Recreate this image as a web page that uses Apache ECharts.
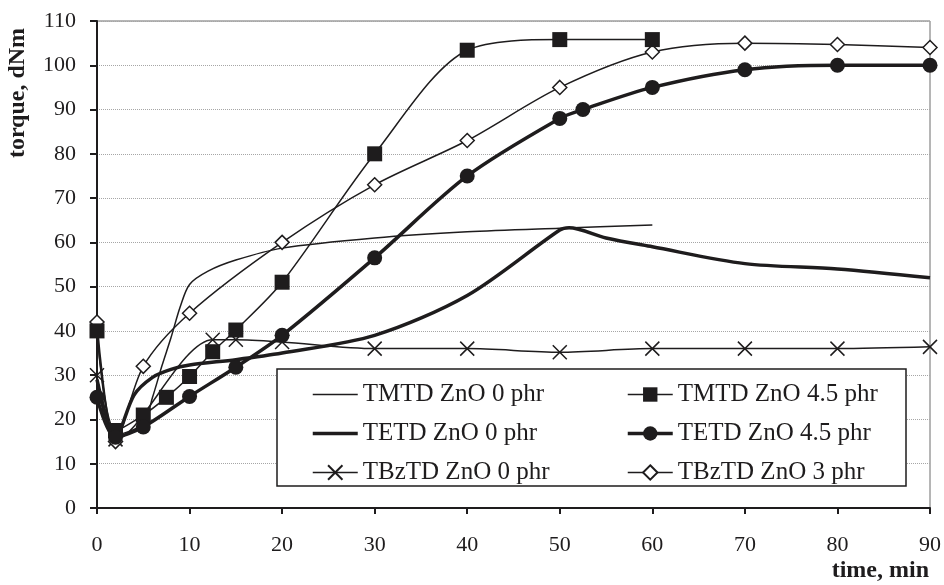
<!DOCTYPE html>
<html>
<head>
<meta charset="utf-8">
<script src="https://cdn.jsdelivr.net/npm/echarts@6/dist/echarts.min.js"></script>
<style>html,body{margin:0;padding:0;background:#fff}#c{width:944px;height:585px}</style>
</head>
<body>
<div id="c"></div>
<script>
// ---- data ----
const xTicks = [0,10,20,30,40,50,60,70,80,90];
const yTicks = [0,10,20,30,40,50,60,70,80,90,100,110];

const tmtd0Time   = [0,2,5,6,7,8,9,10,12,15,20,30,40,50,60];
const tmtd0Torque = [40,16.5,19,25,32,38.5,45.5,50.5,53.5,56,58.7,61,62.4,63.2,63.9];

const tmtd45Time   = [0,2,5,7.5,10,12.5,15,20,30,40,50,60];
const tmtd45Torque = [40,17.5,21,25,29.7,35.3,40.2,51,80,103.4,105.8,105.8];

const tetd0Time   = [0,2,4,6,8,10,15,20,30,40,50,51,55,60,70,80,90];
const tetd0Torque = [29,16,25.5,29.5,31.3,32.3,33.5,35,39,48,62.8,63.3,61,59,55.2,54,52];

const tetd45Time   = [0,2,5,10,15,20,30,40,50,52.5,60,70,80,90];
const tetd45Torque = [25,16,18.3,25.2,31.8,39,56.5,75,88,90,95,99,100,100];

const tbztd0Time   = [0,2,12.5,15,20,30,40,50,60,70,80,90];
const tbztd0Torque = [30,15.5,38,38,37.5,36,36,35.2,36,36,36,36.4];

const tbztd3Time   = [0,2,5,10,20,30,40,50,60,70,80,90];
const tbztd3Torque = [42,15,32,44,60,73,83,95,103,105,104.7,104];

const names = ['TMTD ZnO 0 phr','TMTD ZnO 4.5 phr','TETD ZnO 0 phr','TETD ZnO 4.5 phr','TBzTD ZnO 0 phr','TBzTD ZnO 3 phr'];
const xTitle = 'time, min';
const yTitle = 'torque, dNm';

// ---- build ----
const zip = (t, v) => t.map((x, i) => [x, v[i]]);
const INK = '#1e1c1d';
const FONT = '"Liberation Serif","Times New Roman",serif';
const CROSS = 'path://M0,0L10,10M0,10L10,0';
const THIN = 1.5, THICK = 3.5;

function line(name, data, width, symbol, size, fill) {
  const plain = !symbol;
  return {
    type: 'line', name, data, smooth: 0.3, clip: false,
    symbol: symbol || 'none', symbolSize: size || 0, showSymbol: !plain,
    lineStyle: { color: INK, width },
    itemStyle: plain
      ? { color: 'rgba(0,0,0,0)', borderColor: 'rgba(0,0,0,0)', borderWidth: 0 }
      : { color: fill || INK, borderColor: INK, borderWidth: symbol === 'rect' || symbol === 'circle' ? 0 : 1.5 },
    emphasis: { disabled: true }
  };
}

const legendText = { fontSize: 25, lineHeight: 24, fontFamily: FONT, color: INK };
const widthOf = { [names[0]]: THIN, [names[1]]: THIN, [names[2]]: THICK, [names[3]]: THICK, [names[4]]: THIN, [names[5]]: THIN };
const legendItem = n => ({ name: n, lineStyle: { width: widthOf[n], color: INK } });

const chart = echarts.init(document.getElementById('c'), null, { renderer: 'canvas' });
chart.setOption({
  animation: false,
  backgroundColor: '#fff',
  textStyle: { fontFamily: FONT, color: INK },
  grid: { left: 97, right: 14, top: 21, bottom: 77, show: true, borderColor: '#6d6d6d', borderWidth: 1, backgroundColor: 'transparent' },
  xAxis: {
    type: 'value', min: xTicks[0], max: xTicks[xTicks.length - 1], interval: 10,
    axisLine: { lineStyle: { color: INK, width: 2 } },
    axisTick: { show: true, length: 6, lineStyle: { color: INK, width: 2 } },
    axisLabel: { fontSize: 22, fontFamily: FONT, color: INK, margin: 26 },
    splitLine: { show: false }
  },
  yAxis: {
    type: 'value', min: yTicks[0], max: yTicks[yTicks.length - 1], interval: 10,
    axisLine: { show: true, lineStyle: { color: INK, width: 2 } },
    axisTick: { show: true, length: 7, lineStyle: { color: INK, width: 2 } },
    axisLabel: { fontSize: 22, fontFamily: FONT, color: INK, margin: 21 },
    splitLine: { show: true, lineStyle: { color: '#a6a6a6', type: 'dotted', width: 1 } }
  },
  legend: [
    {
      data: [names[0], names[2], names[4]].map(legendItem), orient: 'vertical', left: 306, top: 377,
      itemWidth: 45, itemHeight: 18, itemGap: 14, selectedMode: false, z: 5,
      lineStyle: { width: 'inherit' },
      textStyle: legendText
    },
    {
      data: [names[1], names[3], names[5]].map(legendItem), orient: 'vertical', left: 621, top: 377,
      itemWidth: 45, itemHeight: 18, itemGap: 14, selectedMode: false, z: 5,
      lineStyle: { width: 'inherit' },
      textStyle: legendText
    }
  ],
  graphic: [
    { type: 'rect', z: 3, shape: { x: 277, y: 369, width: 629, height: 117 },
      style: { fill: '#fff', stroke: INK, lineWidth: 1.5 } },
    { type: 'text', z: 5, x: 18, y: 93, rotation: Math.PI / 2,
      style: { text: yTitle, font: 'bold 24px ' + FONT, fill: INK, textAlign: 'center', textVerticalAlign: 'middle' } },
    { type: 'text', z: 5, x: 929, y: 571,
      style: { text: xTitle, font: 'bold 24px ' + FONT, fill: INK, textAlign: 'right', textVerticalAlign: 'middle' } }
  ],
  series: [
    line(names[0], zip(tmtd0Time, tmtd0Torque), THIN),
    line(names[2], zip(tetd0Time, tetd0Torque), THICK),
    line(names[4], zip(tbztd0Time, tbztd0Torque), THIN, CROSS, 14, 'none'),
    line(names[5], zip(tbztd3Time, tbztd3Torque), THIN, 'diamond', 14, '#fff'),
    line(names[1], zip(tmtd45Time, tmtd45Torque), THIN, 'rect', 15),
    line(names[3], zip(tetd45Time, tetd45Torque), THICK, 'circle', 15)
  ]
});
</script>
</body>
</html>
